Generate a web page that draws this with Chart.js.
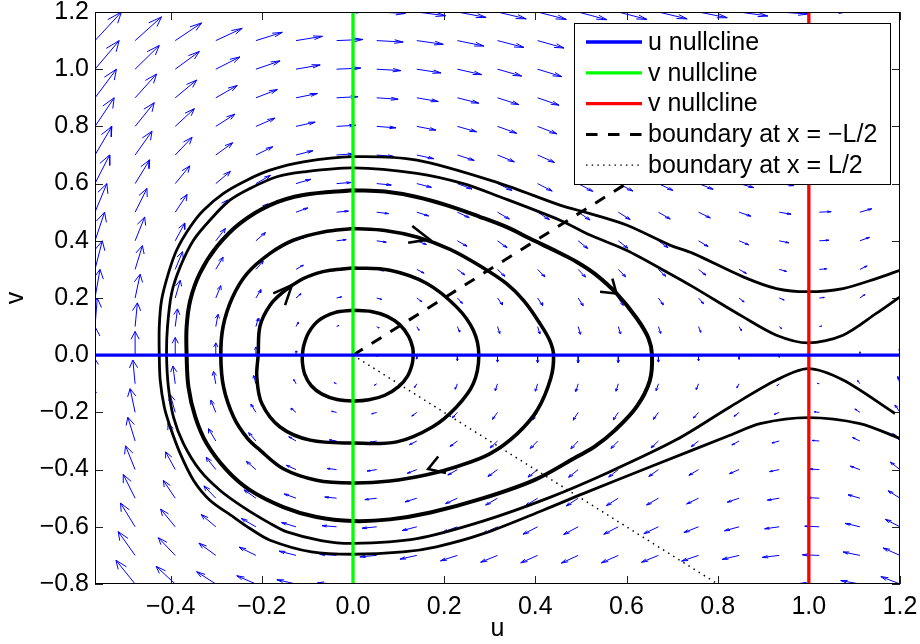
<!DOCTYPE html>
<html>
<head>
<meta charset="utf-8">
<script src="https://cdn.jsdelivr.net/npm/chart.js@4/dist/chart.umd.min.js"></script>
<style>
  html, body { margin: 0; padding: 0; background: #fff; }
  #wrap { width: 920px; height: 644px; }
</style>
</head>
<body>
<div id="wrap"><canvas id="chart" width="920" height="644"></canvas></div>
<script>
// axis ranges and ticks
const xRange = [-0.566, 1.2];
const yRange = [-0.8, 1.2];
const xTicks = [-0.4, -0.2, 0, 0.2, 0.4, 0.6, 0.8, 1.0, 1.2];
const yTicks = [-0.8, -0.6, -0.4, -0.2, 0, 0.2, 0.4, 0.6, 0.8, 1.0, 1.2];

// quiver grid (tail positions) and arrow components
const gridU = [-0.566, -0.478, -0.390, -0.301, -0.213, -0.125, -0.036, 0.052, 0.140, 0.229, 0.317,
               0.405, 0.494, 0.582, 0.670, 0.758, 0.847, 0.935, 1.023, 1.112, 1.200];
const gridV = [-0.8, -0.7, -0.6, -0.5, -0.4, -0.3, -0.2, -0.1, 0, 0.1, 0.2,
               0.3, 0.4, 0.5, 0.6, 0.7, 0.8, 0.9, 1.0, 1.1, 1.2];
// horizontal arrow component for each row (depends on v only)
const rowDu = [-0.042, -0.037, -0.032, -0.026, -0.021, -0.016, -0.011, -0.005, 0, 0.005, 0.011,
               0.016, 0.021, 0.026, 0.032, 0.037, 0.042, 0.047, 0.053, 0.058, 0.063];
// vertical arrow component for each column (depends on u only)
const colDv = [0.100, 0.083, 0.062, 0.043, 0.029, 0.015, 0.004, -0.005, -0.013, -0.019, -0.024,
               -0.026, -0.027, -0.026, -0.024, -0.020, -0.014, -0.007, 0.002, 0.012, 0.026];

// nullclines and boundaries
const uNullV = 0;
const vNullU = [0, 1];
const bndMinusU = [0, 0.8], bndMinusV = [0, 0.8];
const bndPlusU = [0, 0.8], bndPlusV = [0, -0.8];

// trajectories (clockwise)
const orbitAU = [0, 0.040, 0.075, 0.103, 0.122, 0.131, 0.132, 0.130, 0.120, 0.100, 0.070, 0.035, 0,
                 -0.035, -0.068, -0.092, -0.106, -0.111, -0.111, -0.108, -0.097, -0.075, -0.040, 0];
const orbitAV = [0.157, 0.153, 0.136, 0.106, 0.066, 0.026, 0, -0.030, -0.072, -0.110, -0.140, -0.156, -0.160,
                 -0.155, -0.136, -0.106, -0.066, -0.026, 0, 0.034, 0.080, 0.122, 0.149, 0.157];

const orbitBU = [0, 0.081, 0.162, 0.227, 0.264, 0.276, 0.264, 0.227, 0.175, 0.096, 0, -0.094, -0.160, -0.200, -0.211, -0.208, -0.204, -0.182, -0.153, -0.116, -0.080, -0.050, 0];
const orbitBV = [0.305, 0.297, 0.251, 0.169, 0.087, 0, -0.099, -0.181, -0.250, -0.303, -0.307, -0.297, -0.251, -0.169, -0.076, 0, 0.102, 0.175, 0.221, 0.262, 0.286, 0.297, 0.305];

const orbitCU = [0, 0.070, 0.140, 0.213, 0.286, 0.337, 0.375, 0.410, 0.432, 0.440, 0.434, 0.405, 0.360, 0.300, 0.227, 0.162, 0.081, 0,
                 -0.080, -0.153, -0.204, -0.232, -0.262, -0.284, -0.290, -0.285, -0.265, -0.232, -0.182, -0.131, -0.065, 0];
const orbitCV = [0.443, 0.436, 0.413, 0.370, 0.305, 0.250, 0.190, 0.111, 0.050, 0, -0.080, -0.190, -0.275, -0.345, -0.390, -0.418, -0.440, -0.447,
                 -0.437, -0.397, -0.332, -0.290, -0.216, -0.111, 0, 0.100, 0.200, 0.286, 0.356, 0.402, 0.431, 0.443];

const orbitDU = [0, 0.070, 0.140, 0.210, 0.278, 0.340, 0.388, 0.450, 0.490, 0.530, 0.578, 0.622, 0.648, 0.656, 0.651, 0.622, 0.575, 0.530, 0.491, 0.400,
                 0.286, 0.170, 0.081, 0, -0.080, -0.153, -0.226, -0.277, -0.321, -0.346, -0.361, -0.365, -0.365, -0.357, -0.336, -0.299, -0.248, -0.182, -0.109, 0];
const orbitDV = [0.577, 0.572, 0.553, 0.522, 0.484, 0.446, 0.408, 0.360, 0.327, 0.285, 0.216, 0.130, 0.060, 0, -0.090, -0.181, -0.262, -0.320, -0.355, -0.435,
                 -0.500, -0.550, -0.574, -0.580, -0.566, -0.531, -0.472, -0.402, -0.309, -0.216, -0.111, 0, 0.099, 0.192, 0.286, 0.379, 0.461, 0.525, 0.560, 0.577];

const orbitEU = [1.200, 1.148, 1.075, 0.998, 0.929, 0.856, 0.746, 0.695, 0.600, 0.520, 0.454, 0.322, 0.242, 0.140, 0, -0.109, -0.167, -0.226, -0.270, -0.314, -0.350, -0.379,
                 -0.398, -0.407, -0.409, -0.405, -0.394, -0.372, -0.336, -0.292, -0.241, -0.182, -0.145, -0.070, 0, 0.140, 0.285, 0.432, 0.560, 0.710, 0.827, 0.929, 0.998, 1.075, 1.189];
const orbitEV = [0.204, 0.146, 0.070, 0.043, 0.070, 0.134, 0.239, 0.285, 0.367, 0.420, 0.472, 0.554, 0.600, 0.636, 0.655, 0.641, 0.624, 0.583, 0.542, 0.472, 0.402, 0.309,
                 0.216, 0.099, 0, -0.111, -0.216, -0.309, -0.402, -0.472, -0.531, -0.588, -0.618, -0.648, -0.658, -0.641, -0.580, -0.497, -0.410, -0.295, -0.181, -0.087, -0.047, -0.087, -0.204];

const orbitFU = [1.200, 1.148, 1.075, 0.998, 0.929, 0.856, 0.746, 0.695, 0.600, 0.520, 0.454, 0.322, 0.140, 0, -0.109, -0.182, -0.233, -0.284, -0.328, -0.357, -0.387, -0.405, -0.420, -0.425,
                 -0.425, -0.423, -0.414, -0.401, -0.379, -0.350, -0.314, -0.262, -0.226, -0.182, -0.091, 0, 0.110, 0.183, 0.286, 0.417, 0.505, 0.651, 0.827, 0.893, 0.998, 1.112, 1.200];
const orbitFV = [0.297, 0.268, 0.233, 0.222, 0.233, 0.274, 0.356, 0.385, 0.455, 0.495, 0.525, 0.601, 0.682, 0.694, 0.676, 0.647, 0.612, 0.566, 0.507, 0.449, 0.367, 0.286, 0.192, 0.099,
                 0, -0.087, -0.181, -0.251, -0.344, -0.437, -0.507, -0.566, -0.606, -0.647, -0.688, -0.696, -0.688, -0.670, -0.624, -0.542, -0.484, -0.391, -0.280, -0.239, -0.218, -0.239, -0.291];

// direction arrowheads on the orbits: tip and the two barb ends
const headTipU = [0.168, -0.134, 0.578, 0.165];
const headTipV = [0.405, 0.245, 0.216, -0.398];
const headB1U = [0.130, -0.175, 0.542, 0.187];
const headB1V = [0.452, 0.216, 0.222, -0.354];
const headB2U = [0.121, -0.149, 0.569, 0.204];
const headB2V = [0.393, 0.175, 0.268, -0.412];

// legend
const legendLabels = ['u nullcline', 'v nullcline', 'v nullcline', 'boundary at x = \u2212L/2', 'boundary at x = L/2'];
const legendColors = ['#0000ff', '#00ff00', '#ff0000', '#000000', '#000000'];
const legendDash = [[], [], [], [11.5, 10.5], [1.5, 4.2]];
const legendWidths = [3.3, 3.3, 3.3, 3, 1.2];

const FONT = "'Liberation Sans', Arial, sans-serif";

function pts(us, vs) {
    return us.map((u, i) => ({ x: u, y: vs[i] }));
}

function fmt(v) {
    const s = Math.abs(v).toFixed(1);
    return v < -1e-9 ? '\u2212' + s : s;
}

// quiver: shaft + MATLAB style head, separated by null gaps
const qAlpha = 0.33, qBeta = 0.33;
const quiverPts = [];
gridV.forEach((v, i) => {
    gridU.forEach((u, j) => {
        const du = rowDu[i], dv = colDv[j];
        const tx = u + du, ty = v + dv;
        quiverPts.push(
            { x: u, y: v }, { x: tx, y: ty }, { x: tx, y: null },
            { x: tx - qAlpha * (du + qBeta * dv), y: ty - qAlpha * (dv - qBeta * du) },
            { x: tx, y: ty },
            { x: tx - qAlpha * (du - qBeta * dv), y: ty - qAlpha * (dv + qBeta * du) },
            { x: tx, y: null }
        );
    });
});

const headPts = [];
headTipU.forEach((u, k) => {
    headPts.push({ x: headB1U[k], y: headB1V[k] }, { x: u, y: headTipV[k] },
                 { x: headB2U[k], y: headB2V[k] }, { x: u, y: null });
});

function line(data, color, width, extra) {
    return Object.assign({ data, borderColor: color, borderWidth: width, showLine: true,
                           pointRadius: 0, fill: false, tension: 0 }, extra || {});
}

// ticks pointing inward + axes box
const frame = {
    id: 'frame',
    beforeDatasetsDraw(chart) {
        const { ctx, chartArea: a, scales: { x, y } } = chart;
        ctx.save();
        ctx.strokeStyle = '#222';
        ctx.lineWidth = 1;
        ctx.beginPath();
        xTicks.forEach(t => {
            const px = Math.round(x.getPixelForValue(t)) + 0.5;
            ctx.moveTo(px, a.bottom); ctx.lineTo(px, a.bottom - 8);
            ctx.moveTo(px, a.top); ctx.lineTo(px, a.top + 8);
        });
        yTicks.forEach(t => {
            const py = Math.round(y.getPixelForValue(t)) + 0.5;
            ctx.moveTo(a.left, py); ctx.lineTo(a.left + 8, py);
            ctx.moveTo(a.right, py); ctx.lineTo(a.right - 8, py);
        });
        ctx.stroke();
        ctx.restore();
    },
    afterDatasetsDraw(chart) {
        const { ctx, chartArea: a } = chart;
        ctx.save();
        ctx.strokeStyle = '#000';
        ctx.lineWidth = 1;
        ctx.strokeRect(Math.round(a.left) + 0.5, Math.round(a.top) + 0.5,
                       Math.round(a.right - a.left) - 1, Math.round(a.bottom - a.top) - 1);
        ctx.restore();
    }
};

// legend box inside the plot, top right
const boxLegend = {
    id: 'boxLegend',
    afterDraw(chart) {
        const { ctx, chartArea: a } = chart;
        const bx = a.right - 326, by = a.top + 11, bw = 316, bh = 161;
        ctx.save();
        ctx.fillStyle = '#fff';
        ctx.fillRect(bx, by, bw, bh);
        ctx.strokeStyle = '#000';
        ctx.lineWidth = 1;
        ctx.strokeRect(bx + 0.5, by + 0.5, bw, bh);
        ctx.font = '25px ' + FONT;
        ctx.textBaseline = 'middle';
        ctx.fillStyle = '#000';
        legendLabels.forEach((lab, i) => {
            const ry = by + 19 + i * 30.8;
            ctx.beginPath();
            ctx.setLineDash(legendDash[i]);
            ctx.strokeStyle = legendColors[i];
            ctx.lineWidth = legendWidths[i];
            ctx.moveTo(bx + 12, ry);
            ctx.lineTo(bx + 68, ry);
            ctx.stroke();
            ctx.setLineDash([]);
            ctx.fillText(lab, bx + 74, ry + 1);
        });
        ctx.restore();
    }
};

const tickFont = { family: FONT, size: 25 };

new Chart(document.getElementById('chart'), {
    type: 'scatter',
    data: {
        datasets: [
            line([{ x: xRange[0], y: uNullV }, { x: xRange[1], y: uNullV }], '#0000ff', 3.3),
            line([{ x: vNullU[0], y: yRange[0] }, { x: vNullU[0], y: yRange[1] }], '#00ff00', 3.3),
            line([{ x: vNullU[1], y: yRange[0] }, { x: vNullU[1], y: yRange[1] }], '#ff0000', 3.3),
            line(pts(bndMinusU, bndMinusV), '#000', 3, { borderDash: [11.5, 10.5] }),
            line(pts(bndPlusU, bndPlusV), '#000', 1.5, { borderDash: [1.5, 4.5] }),
            line(headPts, '#000', 2.6),
            line(pts(orbitAU, orbitAV), '#000', 3.5, { tension: 0.3 }),
            line(pts(orbitBU, orbitBV), '#000', 3.5, { tension: 0.35 }),
            line(pts(orbitCU, orbitCV), '#000', 3.6, { tension: 0.35 }),
            line(pts(orbitDU, orbitDV), '#000', 4, { tension: 0.35 }),
            line(pts(orbitEU, orbitEV), '#000', 2.8, { tension: 0.3 }),
            line(pts(orbitFU, orbitFV), '#000', 2.8, { tension: 0.3 }),
            line(quiverPts, '#0000ff', 1)
        ]
    },
    options: {
        responsive: false,
        animation: false,
        devicePixelRatio: 1,
        events: [],
        layout: { padding: { left: 0, right: 20, top: 12, bottom: 0 } },
        plugins: { legend: { display: false }, tooltip: { enabled: false } },
        scales: {
            x: {
                type: 'linear',
                min: xRange[0],
                max: xRange[1],
                afterBuildTicks: s => { s.ticks = xTicks.map(v => ({ value: v })); },
                afterFit: s => { s.height = 60; s.paddingLeft = 0; s.paddingRight = 0; },
                grid: { display: false, drawTicks: false },
                border: { display: false },
                ticks: { font: tickFont, color: '#000', padding: 8, autoSkip: false, maxRotation: 0, callback: v => fmt(v) },
                title: { display: true, text: 'u', font: tickFont, color: '#000', padding: { top: 0, bottom: 0 } }
            },
            y: {
                type: 'linear',
                min: yRange[0],
                max: yRange[1],
                afterBuildTicks: s => { s.ticks = yTicks.map(v => ({ value: v })); },
                afterFit: s => { s.width = 95; s.paddingTop = 0; s.paddingBottom = 0; },
                grid: { display: false, drawTicks: false },
                border: { display: false },
                ticks: { font: tickFont, color: '#000', padding: 6, autoSkip: false, callback: v => fmt(v) },
                title: { display: true, text: 'v', font: tickFont, color: '#000', padding: { top: 1, bottom: 0 } }
            }
        }
    },
    plugins: [frame, boxLegend]
});
</script>
</body>
</html>
